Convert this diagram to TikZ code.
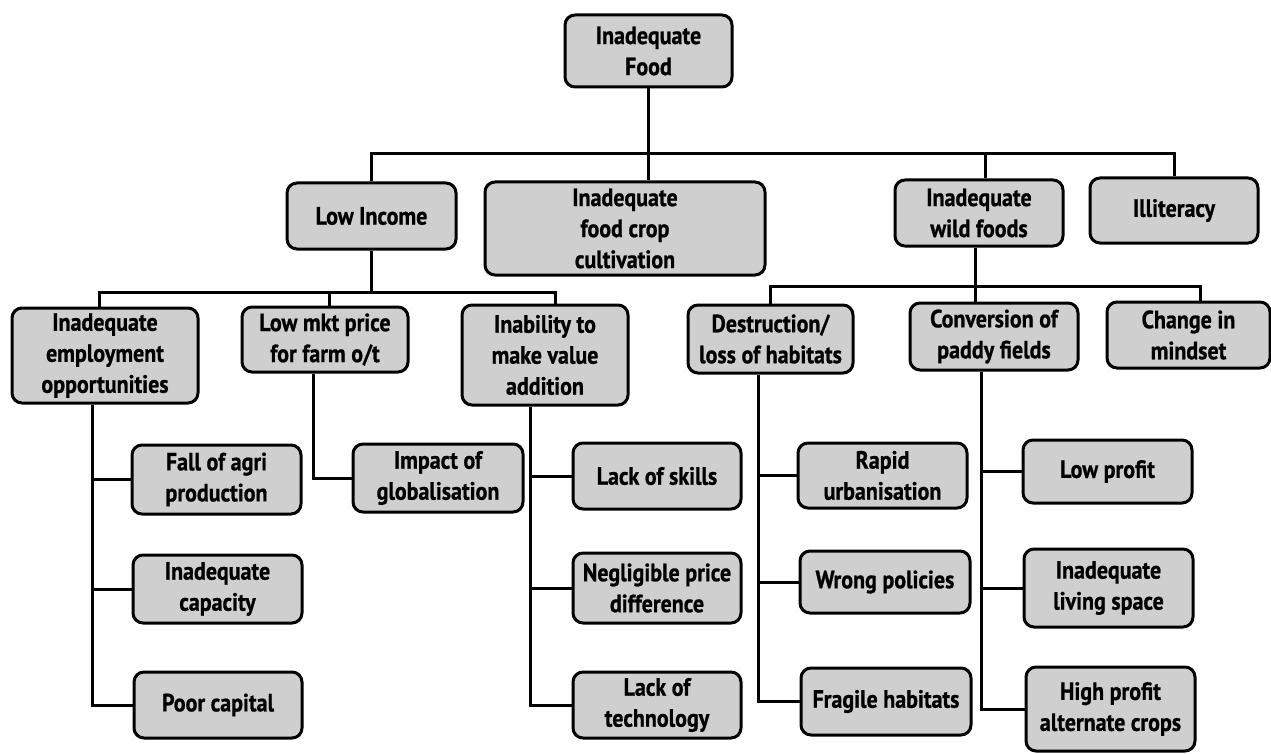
\documentclass[tikz,border=0pt]{standalone}
\usepackage{fontspec}
\setmainfont{PT Sans}[FakeStretch=0.88,BoldFeatures={FakeBold=0.8}]
\definecolor{boxgray}{gray}{0.81}
\newcommand\bx[6]{\node[box,minimum width=#4pt,minimum height=#5pt] (#1) at (#2,#3) {#6};}
\begin{document}
\begin{tikzpicture}[x=1pt,y=-1pt,
  box/.style={draw, line width=3pt, rounded corners=10pt, fill=boxgray, align=center, inner sep=0pt,
              font=\bfseries\fontsize{25}{31}\selectfont},
  conn/.style={draw, line width=3pt}]
\useasboundingbox (0,0) rectangle (1271,754);
% level 0-1
\bx{food}{648.5}{51}{167}{72}{Inadequate\\Food}
\bx{lowinc}{371.5}{216}{169}{66}{Low Income}
\bx{crop}{625}{228.5}{280}{93}{Inadequate\\food crop\\cultivation}
\bx{wild}{979}{213}{168}{66}{Inadequate\\wild foods}
\bx{illit}{1174}{210.5}{168}{65}{Illiteracy}
% level 2
\bx{emp}{105}{355.5}{186}{95}{Inadequate\\employment\\opportunities}
\bx{lowmkt}{325}{339.5}{166}{65}{Low mkt price\\for farm o/t}
\bx{inab}{545}{355}{166}{100}{Inability to\\make value\\addition}
\bx{destr}{770.5}{339}{165}{68}{Destruction/\\loss of habitats}
\bx{conv}{994}{336.5}{168}{67}{Conversion of\\paddy fields}
\bx{mind}{1188.5}{335}{163}{66}{Change in\\mindset}
% leaves
\bx{fall}{216.5}{479.5}{169}{69}{Fall of agri\\production}
\bx{cap}{217.5}{589}{169}{68}{Inadequate\\capacity}
\bx{poor}{218}{705}{168}{66}{Poor capital}
\bx{impact}{438}{478}{170}{68}{Impact of\\globalisation}
\bx{skills}{657}{476}{168}{66}{Lack of skills}
\bx{negl}{657}{588}{168}{70}{Negligible price\\difference}
\bx{tech}{657}{705}{168}{66}{Lack of\\technology}
\bx{rapid}{882.5}{475.5}{169}{65}{Rapid\\urbanisation}
\bx{wrong}{885}{582}{170}{62}{Wrong policies}
\bx{fragile}{886}{701.5}{170}{67}{Fragile habitats}
\bx{lowprof}{1107.5}{471.5}{169}{63}{Low profit}
\bx{living}{1108.5}{588}{169}{78}{Inadequate\\living space}
\bx{high}{1110.5}{709}{169}{84}{High profit\\alternate crops}
% bars
\coordinate (b1) at (0,154);
\coordinate (b2) at (0,292);
\coordinate (b3) at (0,286);
\draw[conn] (food.south) -- (food.south |- crop.north);
\draw[conn] (lowinc.north) -- (lowinc.north |- b1) -- (illit.north |- b1) -- (illit.north);
\draw[conn] ([xshift=6pt]wild.north) -- ([xshift=6pt]wild.north |- b1);
\draw[conn] (lowinc.south) -- (lowinc.south |- b2);
\draw[conn] ([xshift=-6pt]emp.north) -- ([xshift=-6pt]emp.north |- b2) -- ([xshift=10pt]inab.north |- b2) -- ([xshift=10pt]inab.north);
\draw[conn] ([xshift=4pt]lowmkt.north) -- ([xshift=4pt]lowmkt.north |- b2);
\draw[conn] ([xshift=-4pt]wild.south) -- ([xshift=-4pt]wild.south |- conv.north);
\draw[conn] (destr.north) -- (destr.north |- b3) -- ([xshift=12pt]mind.north |- b3) -- ([xshift=12pt]mind.north);
% spines
\coordinate (es) at ([xshift=-13pt]emp.south);
\draw[conn] (es) |- (poor.west);
\draw[conn] (fall.west) -- (fall.west -| es);
\draw[conn] (cap.west) -- (cap.west -| es);
\draw[conn] ([xshift=-12pt]lowmkt.south) |- (impact.west);
\coordinate (is) at ([xshift=-15pt]inab.south);
\draw[conn] (is) |- (tech.west);
\draw[conn] (skills.west) -- (skills.west -| is);
\draw[conn] (negl.west) -- (negl.west -| is);
\coordinate (ds) at ([xshift=-12.5pt]destr.south);
\draw[conn] (ds) |- (fragile.west);
\draw[conn] (rapid.west) -- (rapid.west -| ds);
\draw[conn] (wrong.west) -- (wrong.west -| ds);
\coordinate (cs) at ([xshift=-13pt]conv.south);
\draw[conn] (cs) |- (high.west);
\draw[conn] (lowprof.west) -- (lowprof.west -| cs);
\draw[conn] (living.west) -- (living.west -| cs);
\end{tikzpicture}
\end{document}
